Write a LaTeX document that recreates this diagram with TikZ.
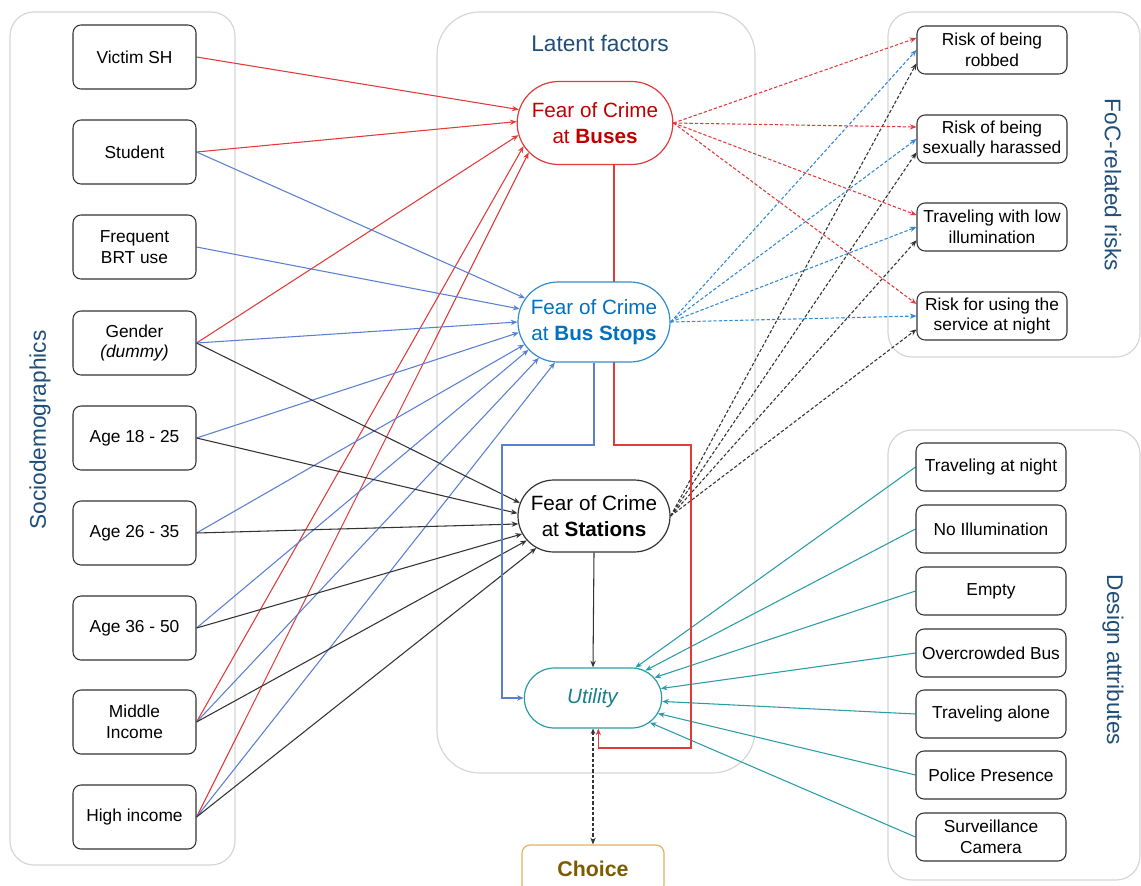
\documentclass[tikz,border=0pt]{standalone}
\usepackage{fontspec}
\setmainfont{Liberation Sans}
\usetikzlibrary{shapes.misc,arrows.meta}
\pgfdeclarelayer{groups}
\pgfdeclarelayer{edges}
\pgfsetlayers{groups,edges,main}
\definecolor{grpgray}{HTML}{D6D6D6}
\definecolor{navy}{HTML}{1F4E79}
\definecolor{crimred}{HTML}{C00000}
\definecolor{redln}{HTML}{E03A3A}
\definecolor{stopblue}{HTML}{0070C0}
\definecolor{blueln}{HTML}{5A7FD2}
\definecolor{bluedash}{HTML}{2F88D8}
\definecolor{tealln}{HTML}{2A9CA8}
\definecolor{tealtxt}{HTML}{17808C}
\definecolor{choiceborder}{HTML}{E0B35A}
\definecolor{choicetxt}{HTML}{7F5A00}
\definecolor{darkln}{HTML}{333333}
\begin{document}
\begin{tikzpicture}[x=0.75pt,y=-0.75pt,
  grp/.style={draw=grpgray,line width=0.9pt,rounded corners=18pt},
  grptitle/.style={text=navy,font=\fontsize{17}{19}\selectfont},
  varbox/.style={draw=darkln,line width=0.8pt,rounded corners=6pt,fill=white,
    minimum width=92.25pt,minimum height=48pt,align=center,inner sep=2pt,
    font=\fontsize{13}{15.5}\selectfont},
  riskbox/.style={draw=darkln,line width=0.8pt,rounded corners=6pt,fill=white,
    minimum width=112.5pt,minimum height=36pt,align=center,inner sep=1pt,
    font=\fontsize{13}{15.5}\selectfont},
  latent/.style={rounded rectangle,fill=white,line width=0.9pt,align=center,
    inner sep=2pt,font=\fontsize{15.5}{19}\selectfont},
  tip/.style={-{Stealth[length=5pt,width=4pt]}},
  redline/.style={redln,line width=0.8pt,tip},
  blueline/.style={blueln,line width=0.8pt,tip},
  blackline/.style={darkln,line width=0.8pt,tip},
  tealline/.style={tealln,line width=0.8pt,tip},
  dsh/.style={dash pattern=on 2.5pt off 1.5pt,line width=0.8pt,tip},
]
\useasboundingbox (0,0) rectangle (1141,885);

% group boxes
\begin{pgfonlayer}{groups}
\draw[grp] (10,12) rectangle (235,865);
\draw[grp,rounded corners=32pt] (437,12) rectangle (755,773);
\draw[grp] (888,12) rectangle (1140,357);
\draw[grp] (888,430) rectangle (1140,880);
\end{pgfonlayer}

\node[grptitle,rotate=90] (tsocio) at (40,430) {Sociodemographics};
\node[grptitle] (tlatent) at (600,43) {Latent factors};
\node[grptitle,rotate=-90] (trisk) at (1113,185) {FoC-related risks};
\node[grptitle,rotate=-90] (tdesign) at (1113,660) {Design attributes};

% left variables
\node[varbox] (victim) at (134.5,57) {Victim SH};
\node[varbox] (student) at (134.5,152) {Student};
\node[varbox] (brt) at (134.5,247) {Frequent\\BRT use};
\node[varbox] (gender) at (134.5,343) {Gender\\\textit{(dummy)}};
\node[varbox] (age1) at (134.5,438) {Age 18 - 25};
\node[varbox] (age2) at (134.5,533) {Age 26 - 35};
\node[varbox] (age3) at (134.5,628) {Age 36 - 50};
\node[varbox] (mid) at (134.5,722) {Middle\\Income};
\node[varbox] (high) at (134.5,817) {High income};

% latent factors
\node[latent,draw=redln,text=crimred,minimum width=120.75pt,minimum height=62.25pt] (buses) at (595,123) {Fear of Crime\\at \textbf{Buses}};
\node[latent,draw=stopblue!80,text=stopblue,minimum width=118pt,minimum height=60pt] (stops) at (594,322) {Fear of Crime\\at \textbf{Bus Stops}};
\node[latent,draw=darkln,text=black,minimum width=118pt,minimum height=54pt] (stations) at (594,516) {Fear of Crime\\at \textbf{Stations}};
\node[latent,draw=tealln,text=tealtxt,minimum width=107pt,minimum height=45pt] (utility) at (593,698) {\textit{Utility}};
\node[draw=choiceborder,line width=0.9pt,rounded corners=6pt,fill=white,text=choicetxt,
  minimum width=106.5pt,minimum height=36pt,font=\fontsize{16}{19}\bfseries] (choice) at (593,869) {Choice};

% risks
\node[riskbox] (r1) at (992,50) {Risk of being\\robbed};
\node[riskbox] (r2) at (992,139) {Risk of being\\sexually harassed};
\node[riskbox] (r3) at (992,227) {Traveling with low\\illumination};
\node[riskbox] (r4) at (992,316) {Risk for using the\\service at night};

% design attributes
\node[riskbox] (d1) at (991,467) {Traveling at night};
\node[riskbox] (d2) at (991,529) {No Illumination};
\node[riskbox] (d3) at (991,591) {Empty};
\node[riskbox] (d4) at (991,653) {Overcrowded Bus};
\node[riskbox] (d5) at (991,714) {Traveling alone};
\node[riskbox] (d6) at (991,775) {Police Presence};
\node[riskbox] (d7) at (991,837) {Surveillance\\Camera};

\coordinate (bc1) at (502,445);
\coordinate (rc1) at (691,445);
\coordinate (rc2) at (691,748);

\begin{pgfonlayer}{edges}
% to buses
\foreach \s/\a in {victim/170,student/179,gender/189,mid/198,high/204}
  \draw[redline] (\s.east) -- (buses.\a);
% to bus stops
\foreach \s/\a in {student/161,brt/170,gender/180,age1/188,age2/198,age3/203,mid/213,high/226}
  \draw[blueline] (\s.east) -- (stops.\a);
% to stations
\foreach \s/\a in {gender/170,age1/178,age2/186,age3/194,mid/200,high/209}
  \draw[blackline] (\s.east) -- (stations.\a);
% dashed to risks
\foreach \r in {r1,r2,r3,r4}{
  \draw[dsh,redln] (buses.east) -- ([yshift=9pt]\r.west);
  \draw[dsh,bluedash] (stops.east) -- ([yshift=0pt]\r.west);
  \draw[dsh,darkln] (stations.east) -- ([yshift=-10pt]\r.west);
}
% design attributes to utility
\foreach \d in {d1,d2,d3,d4,d5,d6,d7}
  \draw[tealline] (\d.west) -- (utility);
% latent to utility
\draw[blackline] (stations.south) -- (utility.north);
\draw[blueline] (stops.south) |- (bc1) |- (utility.west);
\draw[redline] ([xshift=14.25pt]buses.south) |- (rc1) -- (rc2) -| ([xshift=4pt]utility.south);
\draw[dsh,darkln,{Stealth[length=4pt,width=3.5pt]}-{Stealth[length=5pt,width=4pt]}] (utility.south) -- (choice.north);
\end{pgfonlayer}
\end{tikzpicture}
\end{document}
